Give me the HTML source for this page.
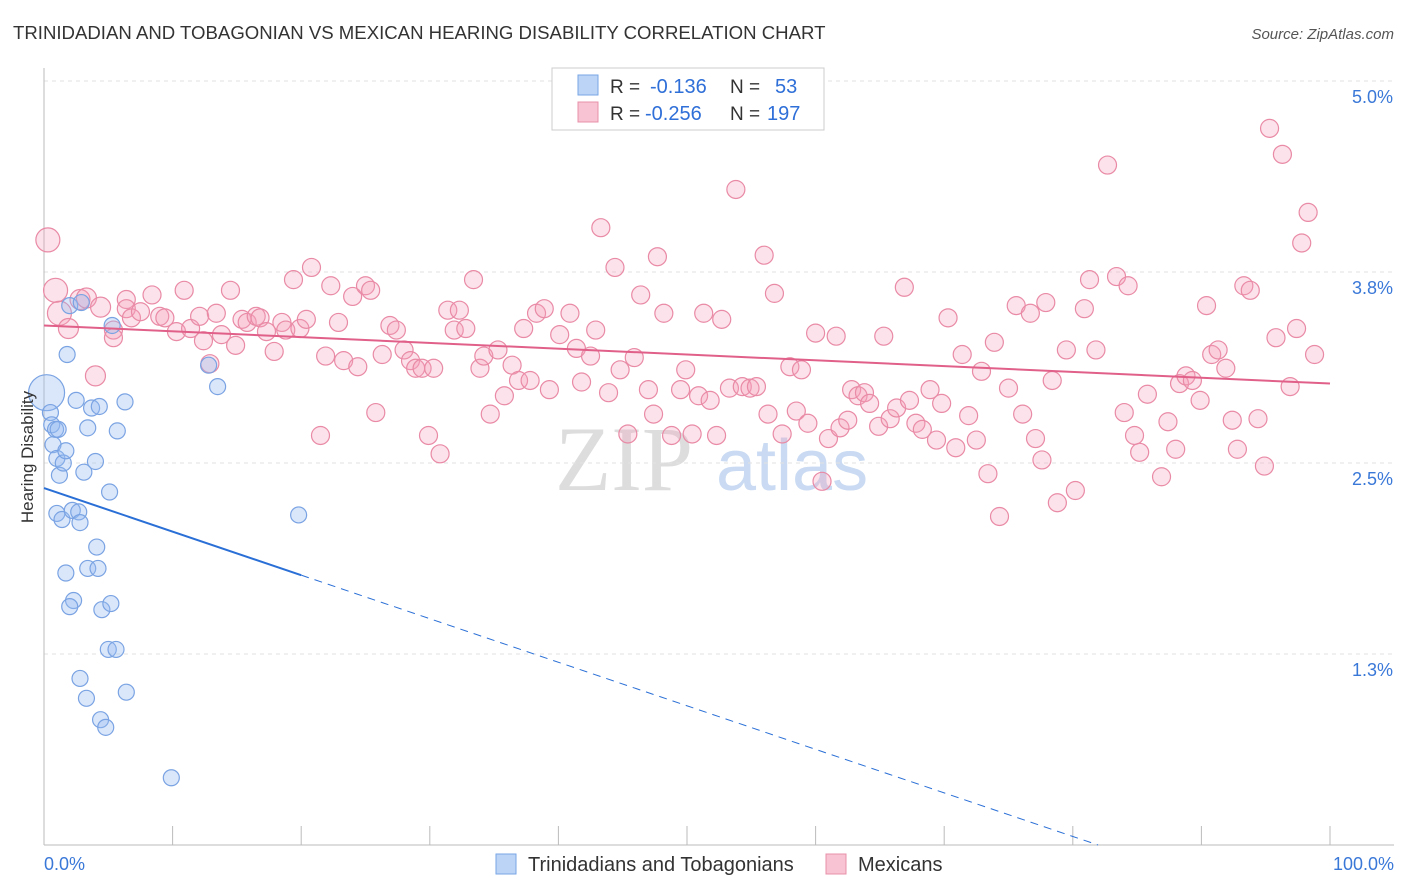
<!DOCTYPE html>
<html><head><meta charset="utf-8">
<style>
body{margin:0;background:#fff;font-family:"Liberation Sans",sans-serif;}
svg{display:block}
</style></head>
<body>
<svg id="chart" width="1406" height="892" viewBox="0 0 1406 892" xmlns="http://www.w3.org/2000/svg">
<text x="13" y="39" font-size="18.6" fill="#333" font-family="Liberation Sans, sans-serif">TRINIDADIAN AND TOBAGONIAN VS MEXICAN HEARING DISABILITY CORRELATION CHART</text>
<text x="1394" y="39" font-size="15" fill="#555" text-anchor="end" font-style="italic">Source: ZipAtlas.com</text>
<g>
<text x="555" y="490" font-size="92" fill="#ddd" font-family="Liberation Serif, serif">ZIP</text>
<text x="716" y="490" font-size="72" fill="#c9daf2">atlas</text>
</g>
<g id="grid"></g>
<g id="axes"></g>
<g id="pts"></g>
<g id="lines"></g>
<text transform="translate(33,457) rotate(-90)" font-size="17" fill="#333" text-anchor="middle">Hearing Disability</text>
<g>
<rect x="552" y="68" width="272" height="62" fill="#fff" stroke="#ccc"/>
<rect x="578" y="75" width="20" height="20" fill="#bcd4f5" stroke="#7aa6e6"/>
<text x="610" y="93" font-size="19" fill="#333">R = </text><text x="650" y="93" font-size="20" fill="#2f6fd8">-0.136</text>
<text x="730" y="93" font-size="19" fill="#333">N = </text><text x="775" y="93" font-size="20" fill="#2f6fd8">53</text>
<rect x="578" y="102" width="20" height="20" fill="#f8c4d3" stroke="#e890aa"/>
<text x="610" y="120" font-size="19" fill="#333">R = </text><text x="645" y="120" font-size="20" fill="#2f6fd8">-0.256</text>
<text x="730" y="120" font-size="19" fill="#333">N = </text><text x="767" y="120" font-size="20" fill="#2f6fd8">197</text>
</g>
<g>
<rect x="496" y="854" width="20" height="20" fill="#bcd4f5" stroke="#7aa6e6"/>
<text x="528" y="871" font-size="20" fill="#333">Trinidadians and Tobagonians</text>
<rect x="826" y="854" width="20" height="20" fill="#f8c4d3" stroke="#e890aa"/>
<text x="858" y="871" font-size="20" fill="#333">Mexicans</text>
</g>
</svg>
<script>
const yTicks=[5.0,3.75,2.5,1.25];
const yTickLabels=["5.0%","3.8%","2.5%","1.3%"];
const xTickLabels=["0.0%","100.0%"];
const blueX=[0.2,0.5,0.6,0.9,1.1,0.7,1.0,1.2,1.5,1.7,1.8,2.0,2.5,3.4,3.7,4.3,6.3,5.7,4.0,3.1,5.1,1.0,1.4,2.2,2.7,2.8,4.1,1.7,3.4,4.2,2.3,2.0,4.5,5.2,5.0,5.6,2.8,3.3,4.4,4.8,6.4,9.9,12.8,13.5,19.8,5.3,2.9];
const blueY=[2.96,2.83,2.75,2.72,2.72,2.62,2.53,2.42,2.50,2.58,3.21,3.53,2.91,2.73,2.86,2.87,2.90,2.71,2.51,2.44,2.31,2.17,2.13,2.19,2.18,2.11,1.95,1.78,1.81,1.81,1.60,1.56,1.54,1.58,1.28,1.28,1.09,0.96,0.82,0.77,1.00,0.44,3.14,3.00,2.16,3.40,3.55];
const pinkX=[0.3,0.9,1.2,1.9,2.8,3.3,4.0,4.4,5.4,5.4,6.4,6.4,6.8,7.5,8.4,9.0,9.4,10.3,10.9,11.4,12.1,12.4,12.9,13.4,13.8,14.5,14.9,15.4,15.8,16.5,16.8,17.3,17.9,18.5,18.8,19.4,19.9,20.4,20.8,21.5,21.9,22.3,22.9,23.3,24.0,24.4,25.0,25.4,25.8,26.3,26.9,27.4,28.0,28.5,28.9,29.4,29.9,30.3,30.8,31.4,31.9,32.3,32.8,33.4,33.9,34.2,34.7,35.3,35.8,36.4,36.9,37.3,37.8,38.3,38.9,39.3,40.1,40.9,41.4,41.8,42.5,42.9,43.3,43.9,44.4,44.8,45.4,45.9,46.4,47.0,47.4,47.7,48.2,48.8,49.5,49.9,50.4,50.9,51.3,51.8,52.3,52.7,53.3,53.8,54.3,54.9,55.4,56.0,56.3,56.8,57.4,58.0,58.5,58.9,59.4,60.0,60.5,61.0,61.6,61.9,62.5,62.8,63.3,63.8,64.2,64.9,65.3,65.8,66.3,66.9,67.3,67.8,68.3,68.9,69.4,69.8,70.3,70.9,71.4,71.9,72.5,72.9,73.4,73.9,74.3,75.0,75.6,76.1,76.7,77.1,77.6,77.9,78.4,78.8,79.5,80.2,80.9,81.3,81.8,82.7,83.4,84.0,84.3,84.8,85.2,85.8,86.9,87.4,88.0,88.3,88.8,89.3,89.9,90.4,90.8,91.3,91.9,92.4,92.8,93.3,93.8,94.4,94.9,95.3,95.8,96.3,96.9,97.4,97.8,98.3,98.8];
const pinkY=[3.96,3.63,3.48,3.38,3.57,3.58,3.07,3.52,3.37,3.32,3.57,3.51,3.45,3.49,3.60,3.46,3.45,3.36,3.63,3.38,3.46,3.30,3.15,3.48,3.34,3.63,3.27,3.44,3.42,3.46,3.45,3.36,3.23,3.42,3.37,3.70,3.38,3.44,3.78,2.68,3.20,3.66,3.42,3.17,3.59,3.13,3.66,3.63,2.83,3.21,3.40,3.37,3.24,3.17,3.12,3.12,2.68,3.12,2.56,3.50,3.37,3.50,3.38,3.70,3.12,3.20,2.82,3.24,2.94,3.14,3.04,3.38,3.04,3.48,3.51,2.98,3.34,3.48,3.25,3.03,3.20,3.37,4.04,2.96,3.78,3.11,2.69,3.19,3.60,2.98,2.82,3.85,3.48,2.68,2.98,3.11,2.69,2.94,3.48,2.91,2.68,3.44,2.99,4.29,3.00,2.99,3.00,3.86,2.82,3.61,2.69,3.13,2.84,3.11,2.76,3.35,2.38,2.66,3.33,2.73,2.78,2.98,2.94,2.96,2.89,2.74,3.33,2.79,2.86,3.65,2.91,2.76,2.72,2.98,2.65,2.89,3.45,2.60,3.21,2.81,2.65,3.10,2.43,3.29,2.15,2.99,3.53,2.82,3.48,2.66,2.52,3.55,3.04,2.24,3.24,2.32,3.51,3.70,3.24,4.45,3.72,2.83,3.66,2.68,2.57,2.95,2.41,2.77,2.59,3.02,3.07,3.04,2.91,3.53,3.21,3.24,3.12,2.78,2.59,3.66,3.63,2.79,2.48,4.69,3.32,4.52,3.00,3.38,3.94,4.14,3.21];
const blueLine=[2.336,-0.0285];
const pinkLine=[3.40,-0.0038];
const NS="http://www.w3.org/2000/svg";
const X0=44,X1=1330,YB=845,PXV=152.8;
function sx(v){return X0+(X1-X0)*v/100;}
function sy(v){return YB-v*PXV;}
function mk(tag,attrs,parent){const e=document.createElementNS(NS,tag);for(const k in attrs)e.setAttribute(k,attrs[k]);parent.appendChild(e);return e;}
const grid=document.getElementById('grid'),axes=document.getElementById('axes'),pts=document.getElementById('pts'),lines=document.getElementById('lines');
yTicks.forEach((t,i)=>{
 const l=mk('line',{x1:X0,x2:1394,y1:sy(t),y2:sy(t),stroke:'#e2e2e2','stroke-dasharray':'4,4'},grid);
 
 
 const tx=mk('text',{x:1393,y:sy(t)+22,'font-size':18,fill:'#3a78d8','text-anchor':'end'},axes);
 tx.textContent=yTickLabels[i];
 
 
});
let al=mk('line',{x1:X0,x2:X0,y1:68,y2:YB,stroke:'#bbb'},axes);


al=mk('line',{x1:X0,x2:1394,y1:YB,y2:YB,stroke:'#bbb'},axes);


for(let i=0;i<=10;i++){const t=mk('line',{x1:sx(i*10),x2:sx(i*10),y1:826,y2:YB,stroke:'#bbb'},axes);
 
 }
[[0,'start',44],[100,'end',1394]].forEach((d,i)=>{const t=mk('text',{x:d[2],y:870,'font-size':18,fill:'#3a78d8','text-anchor':d[1]},axes);t.textContent=xTickLabels[i];
 
 });
pinkX.forEach((x,i)=>{const r=i<3?12:(i<8?10:9);
 const c=mk('circle',{cx:sx(x),cy:sy(pinkY[i]),r:r,fill:'rgba(244,160,186,0.3)',stroke:'#e98aa6','stroke-width':1.2},pts);
 
 });
blueX.forEach((x,i)=>{const r=i===0?18:8;
 const c=mk('circle',{cx:sx(x),cy:sy(blueY[i]),r:r,fill:'rgba(150,185,240,0.35)',stroke:'#7aa3e3','stroke-width':1.2},pts);
 
 });
const bf=x=>blueLine[0]+blueLine[1]*x, pf=x=>pinkLine[0]+pinkLine[1]*x;
let ln=mk('line',{x1:sx(0),y1:sy(bf(0)),x2:sx(20),y2:sy(bf(20)),stroke:'#2a6fd6','stroke-width':2},lines);


const xe=Math.min(100,blueLine[0]/-blueLine[1]);
ln=mk('line',{x1:sx(20),y1:sy(bf(20)),x2:sx(xe),y2:sy(bf(xe)),stroke:'#2a6fd6','stroke-width':1,'stroke-dasharray':'8,6'},lines);


ln=mk('line',{x1:sx(0),y1:sy(pf(0)),x2:sx(100),y2:sy(pf(100)),stroke:'#e0608a','stroke-width':2},lines);


</script>
</body></html>
